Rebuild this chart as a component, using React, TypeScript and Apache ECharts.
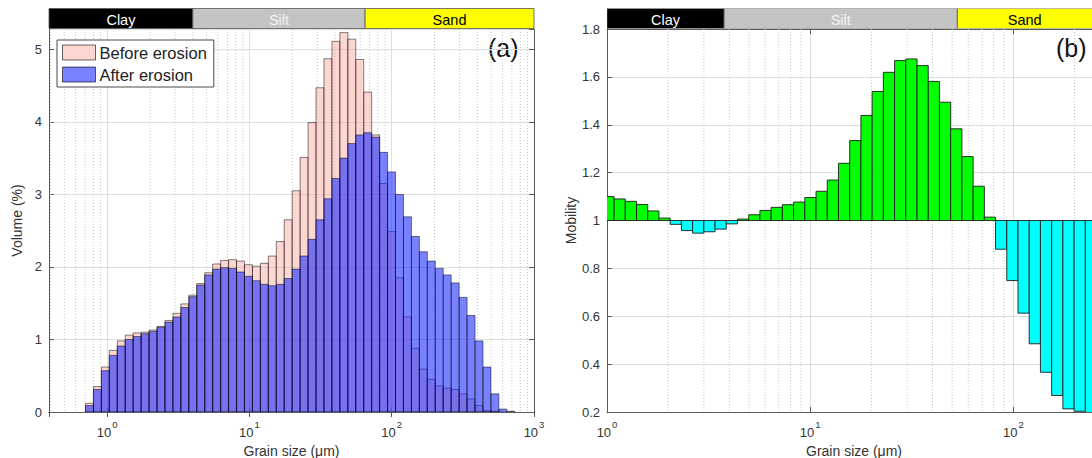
import React, { useEffect, useRef } from "react";
import * as echarts from "echarts";

// ---------- data ----------
// Panel (a): log-spaced histogram bins (lower edge of first bin and bin ratio)
const binStartA = 0.704;
const binRatioA = 1.1373;
const beforeErosion = [
  0.12, 0.35, 0.62, 0.85, 0.98, 1.06, 1.09, 1.1, 1.13, 1.18,
  1.26, 1.36, 1.49, 1.61, 1.77, 1.92, 2.04, 2.09, 2.1, 2.08,
  2.03, 2.01, 2.05, 2.15, 2.35, 2.65, 3.05, 3.51, 3.99, 4.47,
  4.87, 5.11, 5.23, 5.14, 4.86, 4.41, 3.82, 3.15, 2.49, 1.85,
  1.31, 0.88, 0.59, 0.45, 0.36, 0.33, 0.31, 0.25, 0.18, 0.09,
  0.02, 0.01, 0, 0,
];
const afterErosion = [
  0.09, 0.31, 0.57, 0.78, 0.91, 1.0, 1.04, 1.08, 1.11, 1.17,
  1.24, 1.31, 1.44, 1.59, 1.75, 1.89, 1.97, 1.99, 1.98, 1.93,
  1.87, 1.81, 1.76, 1.74, 1.76, 1.84, 1.97, 2.15, 2.38, 2.65,
  2.94, 3.22, 3.5, 3.7, 3.82, 3.85, 3.79, 3.58, 3.31, 3.0,
  2.69, 2.42, 2.21, 2.08, 1.98, 1.89, 1.78, 1.58, 1.33, 0.98,
  0.62, 0.25, 0.04, 0.01,
];

// Panel (b): mobility per bin
const binStartB = 0.954;
const binRatioB = 1.1356;
const mobility = [
  1.1, 1.09, 1.08, 1.067, 1.04, 1.01, 0.984, 0.958, 0.947, 0.953,
  0.964, 0.986, 1.006, 1.024, 1.042, 1.055, 1.066, 1.077, 1.096, 1.122,
  1.169, 1.239, 1.334, 1.439, 1.539, 1.619, 1.668, 1.675, 1.647, 1.581,
  1.494, 1.383, 1.267, 1.143, 1.014, 0.88, 0.749, 0.613, 0.485, 0.366,
  0.269, 0.213, 0.203, 0.19,
];

// Grain-size classes (band boundaries as drawn in each panel)
const bandNames = ["Clay", "Silt", "Sand"];
const bandEdgesA = [0.39, 4.0, 65, 1000];
const bandEdgesB = [1, 3.77, 53, 270];

// Axis ranges
const xRangeA = [0.39, 1000];
const xRangeB = [1, 270];
const yRangeA = [0, 5.28];
const yRangeB = [0.2, 1.8];

// ---------- styles ----------
const FONT = '"Liberation Sans", Arial, Helvetica, sans-serif';
const AXIS_COLOR = "#5a5a5a";
const LABEL_COLOR = "#333333";
const GRID_COLOR = "#dedede";
const MINOR_COLOR = "#c4c4c4";
const bandFill = ["#000000", "#c4c4c4", "#ffff00"];
const bandText = ["#ffffff", "#f2f2f2", "#000000"];
const BEFORE_FILL = "rgba(248,168,158,0.47)";
const AFTER_FILL = "rgba(30,45,255,0.6)";
const BAR_STROKE = "rgba(0,0,0,0.55)";

function logLabel(v: number): string {
  const n = Math.log10(v);
  const r = Math.round(n);
  if (Math.abs(n - r) > 1e-6 || r < 0 || r > 3) return "";
  return "{b|10}{s|" + r + "}";
}

function binData(start: number, ratio: number, values: number[]) {
  return values.map((v, i) => [start * Math.pow(ratio, i), start * Math.pow(ratio, i + 1), v]);
}

function minorTicks(lo: number, hi: number) {
  const out: number[] = [];
  for (let d = -1; d <= 3; d++) {
    for (let m = 2; m <= 9; m++) {
      const v = m * Math.pow(10, d);
      if (v > lo && v < hi) out.push(v);
    }
  }
  return out;
}

function bandData(edges: number[]) {
  return bandNames.map((_, i) => [edges[i], edges[i + 1], i]);
}

const histRender = (fill: string) => (params: any, api: any) => {
  const v = api.value(2);
  if (!(v > 0)) return null;
  const p0 = api.coord([api.value(0), 0]);
  const p1 = api.coord([api.value(1), v]);
  return {
    type: "rect",
    shape: { x: p0[0], y: p1[1], width: p1[0] - p0[0], height: p0[1] - p1[1] },
    style: { fill, stroke: BAR_STROKE, lineWidth: 0.9 },
  };
};

const mobilityRender = (params: any, api: any) => {
  const v = api.value(2);
  const p0 = api.coord([api.value(0), 1]);
  const p1 = api.coord([api.value(1), v]);
  return {
    type: "rect",
    shape: {
      x: p0[0],
      y: Math.min(p0[1], p1[1]),
      width: p1[0] - p0[0],
      height: Math.abs(p0[1] - p1[1]),
    },
    style: { fill: v >= 1 ? "#00ff00" : "#00ffff", stroke: "#1c1c1c", lineWidth: 0.9 },
  };
};

const minorRender = (params: any, api: any) => {
  const cs = params.coordSys;
  const x = api.coord([api.value(0), api.value(1)])[0];
  return {
    type: "line",
    shape: { x1: x, y1: cs.y, x2: x, y2: cs.y + cs.height },
    style: { stroke: MINOR_COLOR, lineWidth: 1, lineDash: [1, 2] },
  };
};

const bandRender = (params: any, api: any) => {
  const i = api.value(2);
  const p0 = api.coord([api.value(0), 0]);
  const p1 = api.coord([api.value(1), 1]);
  const w = p1[0] - p0[0];
  const h = p0[1] - p1[1];
  const visibleRight = Math.min(p1[0], api.getWidth());
  return {
    type: "group",
    children: [
      {
        type: "rect",
        shape: { x: p0[0], y: p1[1], width: w, height: h },
        style: { fill: bandFill[i], stroke: "#555555", lineWidth: 0.8 },
      },
      {
        type: "text",
        x: (p0[0] + visibleRight) / 2,
        y: p1[1] + h / 2 + 1,
        style: {
          text: bandNames[i],
          fill: bandText[i],
          fontSize: 14.5,
          fontFamily: FONT,
          align: "center",
          verticalAlign: "middle",
        },
      },
    ],
  };
};

const tickRich = {
  b: { fontSize: 13, color: LABEL_COLOR, fontFamily: FONT, verticalAlign: "bottom", lineHeight: 20 },
  s: { fontSize: 9.5, color: LABEL_COLOR, fontFamily: FONT, verticalAlign: "top", lineHeight: 20, padding: [0, 0, 0, 1] },
};

function bottomLogAxis(gridIndex: number, range: number[]) {
  return {
    type: "log",
    logBase: 10,
    gridIndex,
    position: "bottom",
    min: range[0],
    max: range[1],
    name: "Grain size (\u03bcm)",
    nameLocation: "middle",
    nameGap: 20,
    nameTextStyle: { fontSize: 14, color: LABEL_COLOR, fontFamily: FONT },
    axisLine: { show: true, lineStyle: { color: AXIS_COLOR, width: 1 } },
    axisTick: { show: true, inside: true, length: 5, lineStyle: { color: AXIS_COLOR } },
    axisLabel: {
      formatter: (v: number) => logLabel(v),
      rich: tickRich,
      margin: 7,
    },
    splitLine: { show: true, lineStyle: { color: GRID_COLOR, width: 1 } },
    minorTick: { show: false },
  };
}

function topLogAxis(gridIndex: number, range: number[]) {
  return {
    type: "log",
    logBase: 10,
    gridIndex,
    position: "top",
    min: range[0],
    max: range[1],
    axisLine: { show: true, lineStyle: { color: AXIS_COLOR, width: 1 } },
    axisTick: { show: true, inside: true, length: 5, lineStyle: { color: AXIS_COLOR } },
    axisLabel: { show: false },
    splitLine: { show: false },
  };
}

function hiddenAxis(gridIndex: number, type: string, range: number[]) {
  return {
    type,
    gridIndex,
    min: range[0],
    max: range[1],
    show: false,
    axisLine: { show: false },
    axisTick: { show: false },
    axisLabel: { show: false },
    splitLine: { show: false },
  };
}

export default function App() {
  const ref = useRef<HTMLDivElement>(null);

  useEffect(() => {
    if (!ref.current) return;
    const chart = echarts.init(ref.current, undefined, { renderer: "svg" });

    const option: any = {
      animation: false,
      backgroundColor: "#ffffff",
      textStyle: { fontFamily: FONT },
      grid: [
        { left: 49, top: 29, width: 485, height: 383, outerBoundsMode: "none", containLabel: false },
        { left: 607, top: 29, width: 494, height: 383, outerBoundsMode: "none", containLabel: false },
        { left: 49, top: 8.5, width: 485, height: 20, outerBoundsMode: "none", containLabel: false },
        { left: 607, top: 8.5, width: 494, height: 20, outerBoundsMode: "none", containLabel: false },
      ],
      xAxis: [
        bottomLogAxis(0, xRangeA),
        topLogAxis(0, xRangeA),
        bottomLogAxis(1, xRangeB),
        topLogAxis(1, xRangeB),
        hiddenAxis(2, "log", xRangeA),
        hiddenAxis(3, "log", xRangeB),
      ],
      yAxis: [
        {
          type: "value",
          gridIndex: 0,
          position: "left",
          min: yRangeA[0],
          max: yRangeA[1],
          interval: 1,
          name: "Volume (%)",
          nameLocation: "middle",
          nameGap: 25,
          nameTextStyle: { fontSize: 14, color: LABEL_COLOR, fontFamily: FONT },
          axisLine: { show: true, lineStyle: { color: AXIS_COLOR, width: 1 } },
          axisTick: { show: true, inside: true, length: 5, lineStyle: { color: AXIS_COLOR } },
          axisLabel: { fontSize: 13, color: LABEL_COLOR, fontFamily: FONT, margin: 7, showMaxLabel: false },
          splitLine: { show: true, lineStyle: { color: GRID_COLOR, width: 1 } },
        },
        {
          type: "value",
          gridIndex: 0,
          position: "right",
          min: yRangeA[0],
          max: yRangeA[1],
          interval: 1,
          axisLine: { show: true, lineStyle: { color: AXIS_COLOR, width: 1 } },
          axisTick: { show: true, inside: true, length: 5, lineStyle: { color: AXIS_COLOR } },
          axisLabel: { show: false },
          splitLine: { show: false },
        },
        {
          type: "value",
          gridIndex: 1,
          position: "left",
          min: yRangeB[0],
          max: yRangeB[1],
          interval: 0.2,
          name: "Mobility",
          nameLocation: "middle",
          nameGap: 29,
          nameTextStyle: { fontSize: 14, color: LABEL_COLOR, fontFamily: FONT },
          axisLine: { show: true, lineStyle: { color: AXIS_COLOR, width: 1 } },
          axisTick: { show: true, inside: true, length: 5, lineStyle: { color: AXIS_COLOR } },
          axisLabel: { fontSize: 13, color: LABEL_COLOR, fontFamily: FONT, margin: 7 },
          splitLine: { show: true, lineStyle: { color: GRID_COLOR, width: 1 } },
        },
        {
          type: "value",
          gridIndex: 1,
          position: "right",
          min: yRangeB[0],
          max: yRangeB[1],
          interval: 0.2,
          axisLine: { show: true, lineStyle: { color: AXIS_COLOR, width: 1 } },
          axisTick: { show: true, inside: true, length: 5, lineStyle: { color: AXIS_COLOR } },
          axisLabel: { show: false },
          splitLine: { show: false },
        },
        hiddenAxis(2, "value", [0, 1]),
        hiddenAxis(3, "value", [0, 1]),
      ],
      legend: {
        left: 57,
        top: 40,
        orient: "vertical",
        backgroundColor: "#ffffff",
        borderColor: "#4a4a4a",
        borderWidth: 1,
        borderRadius: 0,
        padding: [4, 7, 4, 5],
        itemWidth: 33,
        itemHeight: 15,
        itemGap: 5,
        icon: "rect",
        itemStyle: { borderColor: "rgba(0,0,0,0.6)", borderWidth: 1 },
        textStyle: { fontSize: 16.5, color: "#222222", fontFamily: FONT, padding: [0, 0, 0, -1] },
        data: ["Before erosion", "After erosion"],
      },
      graphic: [
        {
          type: "text",
          left: 488,
          top: 35,
          style: { text: "(a)", fontSize: 25, fill: "#111111", fontFamily: FONT },
        },
        {
          type: "text",
          left: 1056,
          top: 35,
          style: { text: "(b)", fontSize: 25, fill: "#111111", fontFamily: FONT },
        },
      ],
      series: [
        {
          type: "custom",
          name: "minorA",
          xAxisIndex: 0,
          yAxisIndex: 0,
          z: 1,
          silent: true,
          renderItem: minorRender,
          data: minorTicks(xRangeA[0], xRangeA[1]).map((v) => [v, 0]),
          encode: { x: 0, y: 1 },
        },
        {
          type: "custom",
          name: "minorB",
          xAxisIndex: 2,
          yAxisIndex: 2,
          z: 1,
          silent: true,
          renderItem: minorRender,
          data: minorTicks(xRangeB[0], xRangeB[1]).map((v) => [v, 1]),
          encode: { x: 0, y: 1 },
        },
        {
          type: "custom",
          name: "Before erosion",
          xAxisIndex: 0,
          yAxisIndex: 0,
          z: 2,
          clip: true,
          itemStyle: { color: BEFORE_FILL },
          renderItem: histRender(BEFORE_FILL),
          data: binData(binStartA, binRatioA, beforeErosion),
          encode: { x: [0, 1], y: 2 },
        },
        {
          type: "custom",
          name: "After erosion",
          xAxisIndex: 0,
          yAxisIndex: 0,
          z: 3,
          clip: true,
          itemStyle: { color: AFTER_FILL },
          renderItem: histRender(AFTER_FILL),
          data: binData(binStartA, binRatioA, afterErosion),
          encode: { x: [0, 1], y: 2 },
        },
        {
          type: "custom",
          name: "Mobility",
          xAxisIndex: 2,
          yAxisIndex: 2,
          z: 2,
          clip: true,
          renderItem: mobilityRender,
          data: binData(binStartB, binRatioB, mobility),
          encode: { x: [0, 1], y: 2 },
        },
        {
          type: "custom",
          name: "bandsA",
          xAxisIndex: 4,
          yAxisIndex: 4,
          silent: true,
          renderItem: bandRender,
          data: bandData(bandEdgesA),
          encode: { x: [0, 1] },
        },
        {
          type: "custom",
          name: "bandsB",
          xAxisIndex: 5,
          yAxisIndex: 5,
          silent: true,
          clip: true,
          renderItem: bandRender,
          data: bandData(bandEdgesB),
          encode: { x: [0, 1] },
        },
      ],
    };

    chart.setOption(option);
    return () => {
      chart.dispose();
    };
  }, []);

  return (
    <div
      ref={ref}
      style={{ position: "absolute", left: 0, top: 0, width: 1092, height: 458, background: "#fff" }}
    />
  );
}
